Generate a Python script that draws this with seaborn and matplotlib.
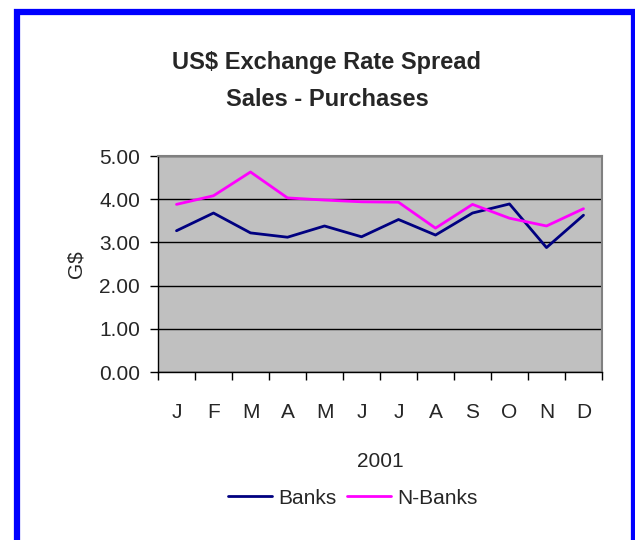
import numpy as np
import pandas as pd
import seaborn as sns
import matplotlib
matplotlib.use("Agg")
import matplotlib.pyplot as plt
from matplotlib.patches import Rectangle
from matplotlib.ticker import FixedLocator

# Datos (spread venta - compra, G$)
meses = ["J", "F", "M", "A", "M", "J", "J", "A", "S", "O", "N", "D"]
bancos = [3.27, 3.68, 3.22, 3.12, 3.38, 3.13, 3.53, 3.17, 3.68, 3.89, 2.88, 3.63]
no_bancos = [3.88, 4.08, 4.63, 4.03, 3.98, 3.94, 3.93, 3.33, 3.88, 3.56, 3.38, 3.78]
series = ["Banks", "N-Banks"]
colores = {"Banks": "#000080", "N-Banks": "#FF00FF"}

df = pd.DataFrame({
    "mes": list(range(len(meses))) * 2,
    "valor": bancos + no_bancos,
    "serie": [series[0]] * len(meses) + [series[1]] * len(meses),
})

sns.set_style("white")
plt.rcParams["font.family"] = ["Liberation Sans", "DejaVu Sans"]

fig = plt.figure(figsize=(6.35, 5.40), dpi=100)
ax = fig.add_axes([158 / 635, 1 - 372 / 540, 444 / 635, 216 / 540])

sns.lineplot(data=df, x="mes", y="valor", hue="serie", palette=colores,
             linewidth=2, ax=ax, legend=True)

ax.set_facecolor("#C0C0C0")
ax.set_xlim(-0.5, len(meses) - 0.5)
ax.set_ylim(0, 5)
ax.set_yticks(np.arange(0, 5.01, 1))
ax.set_yticklabels([f"{v:.2f}" for v in np.arange(0, 5.01, 1)])
ax.yaxis.grid(True, color="black", linewidth=1)
ax.xaxis.grid(False)

ax.set_xticks(range(len(meses)))
ax.set_xticklabels(meses)
ax.xaxis.set_minor_locator(FixedLocator(np.arange(-0.5, len(meses), 1)))
ax.tick_params(axis="x", which="major", length=0, pad=22, labelsize=15)
ax.tick_params(axis="x", which="minor", length=6, width=1, color="black", direction="out")
ax.tick_params(axis="y", length=6, width=1, color="black", direction="out", pad=7, labelsize=15)
ax.tick_params(bottom=True, left=True, which="both")

for lado in ["left", "bottom"]:
    ax.spines[lado].set_color("black")
    ax.spines[lado].set_linewidth(1)
for lado in ["top", "right"]:
    ax.spines[lado].set_color("#808080")
    ax.spines[lado].set_linewidth(1.5)

ax.set_ylabel("G$", fontsize=15, labelpad=10)
ax.set_xlabel("2001", fontsize=15, labelpad=22)

ax.get_legend().remove()
handles, labels = ax.get_legend_handles_labels()
fig.legend(handles, labels, loc="center", bbox_to_anchor=(353 / 635, 1 - 498 / 540),
           ncol=2, frameon=False, fontsize=15, handlelength=2.1,
           handletextpad=0.3, columnspacing=0.5)

fig.text(327 / 635, 1 - 63 / 540, "US$ Exchange Rate Spread", ha="center", va="center",
         fontsize=17, fontweight="bold")
fig.text(327 / 635, 1 - 100 / 540, "Sales - Purchases", ha="center", va="center",
         fontsize=17, fontweight="bold")

# borde azul
fig.patches.append(Rectangle((17 / 635, -0.1), (633.5 - 17) / 635, 1.1 - 12 / 540,
                             transform=fig.transFigure, fill=False,
                             edgecolor="#0000FF", linewidth=4.5, clip_on=False))

fig.savefig("out.png", dpi=100)
